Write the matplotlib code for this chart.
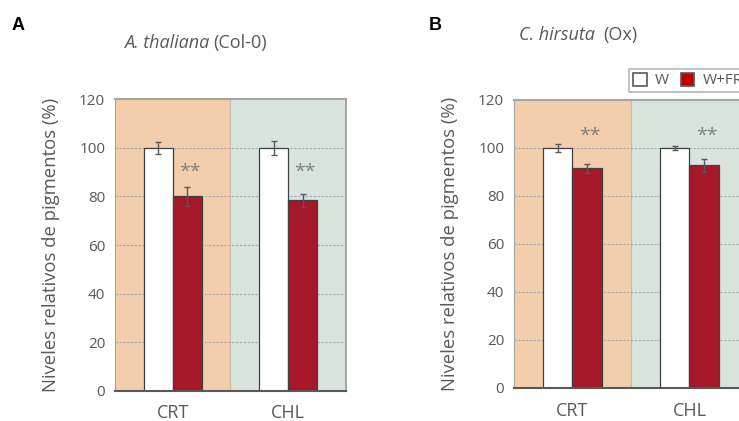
import matplotlib
matplotlib.use("Agg")
import matplotlib.pyplot as plt
from matplotlib.patches import Patch
import numpy as np

plt.rcParams['font.family'] = ['Open Sans', 'DejaVu Sans']

categories = ["CRT", "CHL"]
series_names = ["W", "W+FR"]
yticks = [0, 20, 40, 60, 80, 100, 120]

# Panel A: A. thaliana (Col-0)
a_w = [100, 100]
a_w_err = [2.3, 3.0]
a_fr = [80, 78.4]
a_fr_err = [4.0, 2.6]

# Panel B: C. hirsuta (Ox)
b_w = [100, 100]
b_w_err = [1.8, 1.0]
b_fr = [91.5, 92.8]
b_fr_err = [2.0, 2.6]

signif = ["**", "**"]

TXT = "#595959"
RED = "#A6172A"
RED_LEG = "#C00000"
ORANGE = "#F2CEAC"
GREEN = "#D9E4DD"

fig = plt.figure(figsize=(7.39, 4.21), dpi=100)


def panel(rect, w, w_err, fr, fr_err, star_y):
    ax = fig.add_axes(rect)
    x = np.arange(len(categories))
    bw = 0.25
    ax.set_xlim(-0.5, 1.5)
    ax.set_ylim(0, 120)
    ax.axvspan(-0.5, 0.5, color=ORANGE, zorder=0, lw=0)
    ax.axvspan(0.5, 1.5, color=GREEN, zorder=0, lw=0)
    ax.axvline(0.5, color="#C9B9A6", lw=0.8, zorder=0.5)
    for t in yticks[1:-1]:
        ax.axhline(t, color="#A6A6A6", lw=0.8, ls=(0, (2, 1.5)), zorder=1)
    ax.bar(x - bw / 2, w, bw, color="white", edgecolor="#404040", lw=0.9, zorder=2)
    ax.bar(x + bw / 2, fr, bw, color=RED, edgecolor="#404040", lw=0.9, zorder=2)
    ax.errorbar(x - bw / 2, w, yerr=w_err, fmt="none", ecolor="#595959",
                elinewidth=1, capsize=2, capthick=1, zorder=3)
    ax.errorbar(x + bw / 2, fr, yerr=fr_err, fmt="none", ecolor="#595959",
                elinewidth=1, capsize=2, capthick=1, zorder=3)
    for xi, s, yy in zip(x, signif, star_y):
        ax.text(xi + bw / 2 + 0.02, yy, s, ha="center", va="center",
                color="#808080", fontsize=14, zorder=4)
    ax.set_yticks(yticks)
    ax.set_yticklabels([str(t) for t in yticks], color=TXT, fontsize=11)
    ax.set_xticks(x)
    ax.set_xticklabels(categories, color=TXT, fontsize=13)
    ax.tick_params(axis="y", length=0, pad=7)
    ax.tick_params(axis="x", length=0, pad=10)
    for side in ("top", "right", "left"):
        ax.spines[side].set_color("#A6A6A6")
        ax.spines[side].set_linewidth(1.5)
    ax.spines["left"].set_linewidth(0.8)
    ax.spines["bottom"].set_color("#595959")
    ax.spines["bottom"].set_linewidth(1.5)
    ax.set_ylabel("Niveles relativos de pigmentos (%)", color=TXT,
                  fontsize=13.3, labelpad=14)
    return ax


axA = panel([0.1556, 0.0724, 0.3126, 0.6913], a_w, a_w_err, a_fr, a_fr_err, [90, 90])
axB = panel([0.6955, 0.0784, 0.3166, 0.6841], b_w, b_w_err, b_fr, b_fr_err, [105, 105])

fig.text(18 / 739, 1 - 25 / 421, "A", fontsize=13, fontweight="bold",
         family="Liberation Sans", ha="center", va="center")
fig.text(435 / 739, 1 - 25 / 421, "B", fontsize=13, fontweight="bold",
         family="Liberation Sans", ha="center", va="center")

fig.text(209 / 739, 1 - 43 / 421, "A. thaliana", fontsize=13, color=TXT,
         style="italic", ha="right", va="center")
fig.text(213 / 739, 1 - 43 / 421, "(Col-0)", fontsize=13, color=TXT,
         ha="left", va="center")
fig.text(595 / 739, 1 - 35 / 421, "C. hirsuta", fontsize=13, color=TXT,
         style="italic", ha="right", va="center")
fig.text(603 / 739, 1 - 35 / 421, "(Ox)", fontsize=13, color=TXT,
         ha="left", va="center")

# legend box runs past the right edge of the figure
handles = [Patch(facecolor="white", edgecolor="#595959", lw=1.2),
           Patch(facecolor=RED_LEG, edgecolor="#595959", lw=1.2)]
leg = fig.legend(handles, series_names, loc="upper left",
                 bbox_to_anchor=(629 / 739, 1 - 69 / 421), ncol=2,
                 frameon=True, fontsize=11, handlelength=0.9, handleheight=0.9,
                 handletextpad=0.55, columnspacing=0.75, borderpad=0.25,
                 borderaxespad=0, fancybox=False, labelcolor=TXT)
leg.get_frame().set_edgecolor("#A6A6A6")
leg.get_frame().set_linewidth(1.2)

fig.savefig("out.png", dpi=100)
